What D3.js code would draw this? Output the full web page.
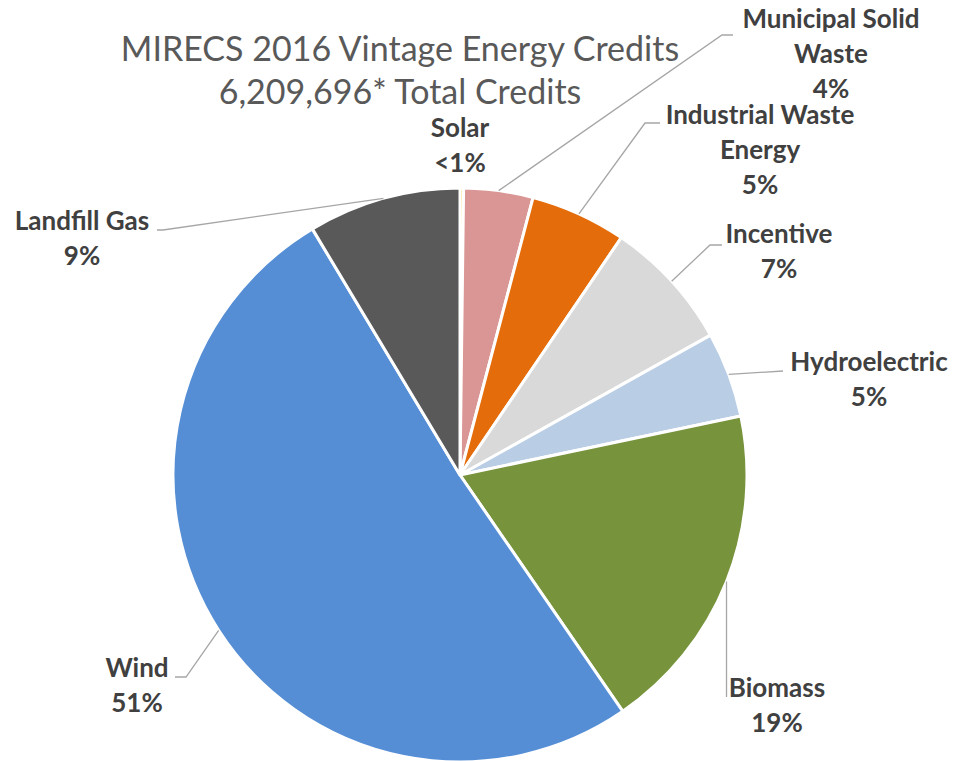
<!DOCTYPE html>
<html>
<head>
<meta charset="utf-8" />
<script src="https://cdn.jsdelivr.net/npm/d3@7"></script>
<style>
body { margin: 0; background: #ffffff; }
.title { font-family: Lato, "Open Sans", sans-serif; font-size: 34px; fill: #595959; }
.lbl { font-family: Lato, "Open Sans", sans-serif; font-size: 26px; font-weight: bold; fill: #404040; }
.leader { stroke: #a6a6a6; stroke-width: 1.3; fill: none; }
</style>
</head>
<body>
<div id="chart"></div>
<script>
var w = 956, h = 761;

// data (share of credits, %)
var categories = ["Solar", "Municipal Solid Waste", "Industrial Waste Energy", "Incentive",
                  "Hydroelectric", "Biomass", "Wind", "Landfill Gas"];
var shares = [0.2, 3.9, 5.4, 7.4, 4.8, 18.7, 51.0, 8.6];
var colors = ["#ffc000", "#d99694", "#e46c0a", "#d9d9d9", "#b9cde5", "#77933c", "#558ed5", "#595959"];
var titleLines = ["MIRECS 2016 Vintage Energy Credits", "6,209,696* Total Credits"];

// label layout: text lines, centre x, first baseline (relative to pie centre), elbow of leader
var labelLines = [["Solar"], ["Municipal Solid", "Waste"], ["Industrial Waste", "Energy"], ["Incentive"],
                  ["Hydroelectric"], ["Biomass"], ["Wind"], ["Landfill Gas"]];
var labelX = [0, 371, 300, 319, 409, 317, -323, -378];
var labelY = [-338, -447, -351, -232, -104, 222, 202, -245];
var elbowX = [null, 262, 185, 250, 323, 267, -274, -297];
var elbowY = [null, -440, -352, -230, -104, null, 202, -245];
var elbowEnd = [null, 273, 200, 262, 323, 267, -285, -303];

var cx = 460, cy = 475, R = 287;

var svg = d3.select("#chart").append("svg")
    .attr("width", w).attr("height", h);

svg.selectAll("text.title")
    .data(titleLines).enter().append("text")
    .attr("class", "title")
    .attr("x", 400)
    .attr("y", function(d, i) { return 61 + i * 43; })
    .attr("text-anchor", "middle")
    .text(function(d) { return d; });

var g = svg.append("g")
    .attr("transform", "translate(" + cx + "," + cy + ")");

var pie = d3.pie().sort(null).value(function(d) { return d; });
var arcs = pie(shares);
var arc = d3.arc().innerRadius(0).outerRadius(R);

g.selectAll("path.slice")
    .data(arcs).enter().append("path")
    .attr("class", "slice")
    .attr("d", arc)
    .attr("fill", function(d, i) { return colors[i]; })
    .attr("stroke", "#ffffff")
    .attr("stroke-width", 3)
    .attr("stroke-linejoin", "round");

// leader lines from slice edge to label
arcs.forEach(function(d, i) {
    if (elbowX[i] === null) return;
    var a = (d.startAngle + d.endAngle) / 2;
    var x0 = R * Math.sin(a), y0 = -R * Math.cos(a);
    var ey = elbowY[i] === null ? labelY[i] - 24 : elbowY[i];
    var pts = [[x0, y0], [elbowX[i], ey], [elbowEnd[i], ey]];
    if (i === 5) pts = [[x0, y0], [x0, labelY[i]]];
    g.append("path")
        .attr("class", "leader")
        .attr("d", d3.line()(pts));
});

// labels
arcs.forEach(function(d, i) {
    var pct = shares[i] < 1 ? "<1%" : Math.round(shares[i]) + "%";
    var lines = labelLines[i].concat([pct]);
    var t = g.append("text")
        .attr("class", "lbl")
        .attr("text-anchor", "middle");
    lines.forEach(function(s, k) {
        t.append("tspan")
            .attr("x", labelX[i])
            .attr("y", labelY[i] + k * 35)
            .text(s);
    });
});
</script>
</body>
</html>
